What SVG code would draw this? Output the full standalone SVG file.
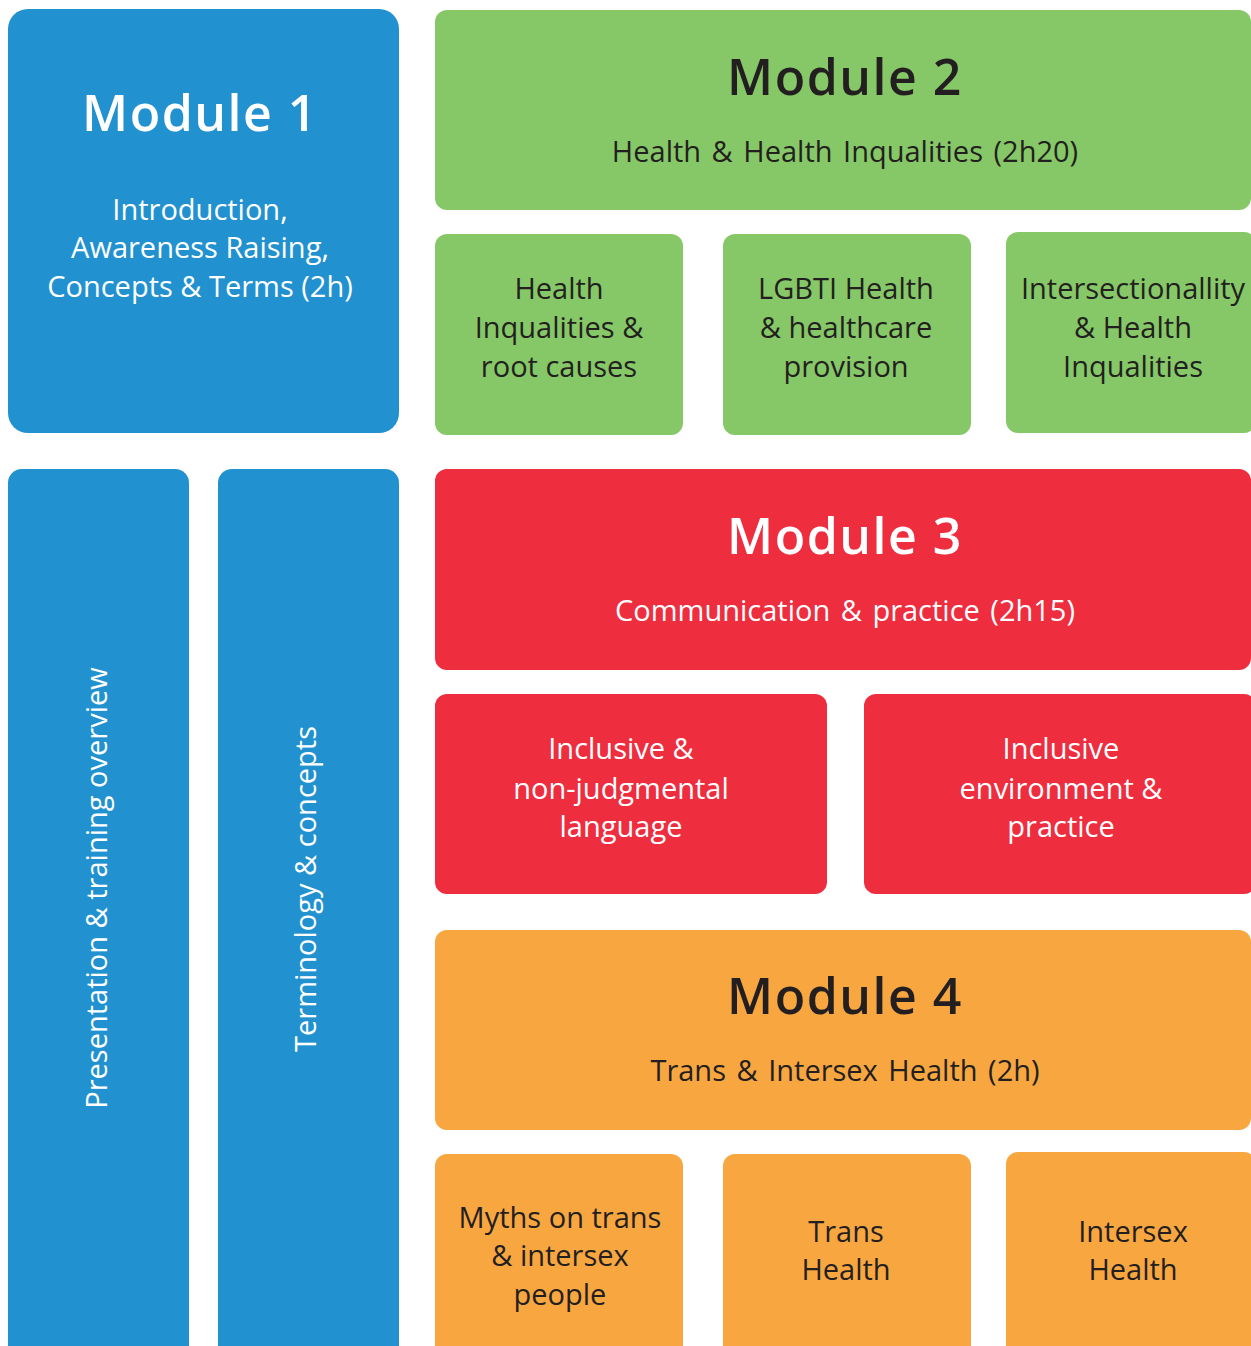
<svg xmlns="http://www.w3.org/2000/svg" width="1251" height="1346" viewBox="0 0 1251 1346">
<style>
.blue{fill:#2291D0}.green{fill:#86C867}.red{fill:#EE2D3F}.orange{fill:#F8A640}
.title{font-family:"Open Sans","Liberation Sans",sans-serif;font-weight:600;font-size:50px;letter-spacing:1.5px;text-anchor:middle}
.body{font-family:"Open Sans","Liberation Sans",sans-serif;font-size:29px;text-anchor:middle}
.sub{word-spacing:3px}
.w{fill:#FFFFFF}.d{fill:#231F20}
</style>
<rect width="1251" height="1346" fill="#FFFFFF"/>
<g id="module1">
<rect class="blue" x="8" y="9" width="391" height="424" rx="20"/>
<text class="title w" x="200" y="131">Module 1</text>
<text class="body w" x="200" y="220">Introduction,</text>
<text class="body w" x="200" y="258">Awareness Raising,</text>
<text class="body w" x="200" y="297">Concepts &amp; Terms (2h)</text>
</g>
<g id="presentation">
<rect class="blue" x="8" y="469" width="181" height="900" rx="14"/>
<text class="body w" transform="translate(107,888) rotate(-90)">Presentation &amp; training overview</text>
</g>
<g id="terminology">
<rect class="blue" x="218" y="469" width="181" height="900" rx="14"/>
<text class="body w" transform="translate(316,889) rotate(-90)">Terminology &amp; concepts</text>
</g>
<g id="module2">
<rect class="green" x="435" y="10" width="816" height="200" rx="12"/>
<text class="title d" x="845" y="95">Module 2</text>
<text class="body sub d" x="845" y="162">Health &amp; Health Inqualities (2h20)</text>
</g>
<g id="m2a">
<rect class="green" x="435" y="234" width="248" height="201" rx="12"/>
<text class="body d" x="559" y="299">Health</text>
<text class="body d" x="559" y="338">Inqualities &amp;</text>
<text class="body d" x="559" y="377">root causes</text>
</g>
<g id="m2b">
<rect class="green" x="723" y="234" width="248" height="201" rx="12"/>
<text class="body d" x="846" y="299">LGBTI Health</text>
<text class="body d" x="846" y="338">&amp; healthcare</text>
<text class="body d" x="846" y="377">provision</text>
</g>
<g id="m2c">
<rect class="green" x="1006" y="232" width="250" height="201" rx="12"/>
<text class="body d" x="1133" y="299">Intersectionallity</text>
<text class="body d" x="1133" y="338">&amp; Health</text>
<text class="body d" x="1133" y="377">Inqualities</text>
</g>
<g id="module3">
<rect class="red" x="435" y="469" width="816" height="201" rx="12"/>
<text class="title w" x="845" y="554">Module 3</text>
<text class="body sub w" x="845" y="621">Communication &amp; practice (2h15)</text>
</g>
<g id="m3a">
<rect class="red" x="435" y="694" width="392" height="200" rx="12"/>
<text class="body w" x="621" y="759">Inclusive &amp;</text>
<text class="body w" x="621" y="799">non-judgmental</text>
<text class="body w" x="621" y="837">language</text>
</g>
<g id="m3b">
<rect class="red" x="864" y="694" width="392" height="200" rx="12"/>
<text class="body w" x="1061" y="759">Inclusive</text>
<text class="body w" x="1061" y="799">environment &amp;</text>
<text class="body w" x="1061" y="837">practice</text>
</g>
<g id="module4">
<rect class="orange" x="435" y="930" width="816" height="200" rx="12"/>
<text class="title d" x="845" y="1014">Module 4</text>
<text class="body sub d" x="845" y="1081">Trans &amp; Intersex Health (2h)</text>
</g>
<g id="m4a">
<rect class="orange" x="435" y="1154" width="248" height="220" rx="12"/>
<text class="body d" x="560" y="1228">Myths on trans</text>
<text class="body d" x="560" y="1266">&amp; intersex</text>
<text class="body d" x="560" y="1305">people</text>
</g>
<g id="m4b">
<rect class="orange" x="723" y="1154" width="248" height="220" rx="12"/>
<text class="body d" x="846" y="1242">Trans</text>
<text class="body d" x="846" y="1280">Health</text>
</g>
<g id="m4c">
<rect class="orange" x="1006" y="1152" width="250" height="220" rx="12"/>
<text class="body d" x="1133" y="1242">Intersex</text>
<text class="body d" x="1133" y="1280">Health</text>
</g>
<g id="connectors"/>
</svg>
